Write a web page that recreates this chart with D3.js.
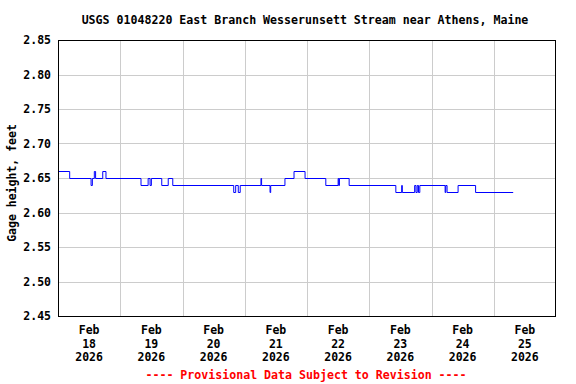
<!DOCTYPE html>
<html><head><meta charset="utf-8">
<script src="https://cdn.jsdelivr.net/npm/d3@7"></script>
<style>body{margin:0;background:#fff}svg{display:block}text{font-family:"DejaVu Sans Mono",monospace;font-weight:bold}</style>
</head><body>
<svg id="c" width="576" height="384"></svg>
<script>
const title = "USGS 01048220 East Branch Wesserunsett Stream near Athens, Maine";
const yLabel = "Gage height, feet";
const footer = "---- Provisional Data Subject to Revision ----";
const yTicks = [2.45, 2.50, 2.55, 2.60, 2.65, 2.70, 2.75, 2.80, 2.85];
const dayLabels = ["Feb 18 2026","Feb 19 2026","Feb 20 2026","Feb 21 2026","Feb 22 2026","Feb 23 2026","Feb 24 2026","Feb 25 2026"];
const times = [
 "2026-02-18T00:00","2026-02-18T04:30","2026-02-18T12:45","2026-02-18T13:15","2026-02-18T14:00","2026-02-18T14:30",
 "2026-02-18T17:15","2026-02-18T18:30","2026-02-19T08:00","2026-02-19T10:45","2026-02-19T11:30","2026-02-19T12:00",
 "2026-02-19T16:00","2026-02-19T18:30","2026-02-19T20:15","2026-02-20T19:45","2026-02-20T20:30","2026-02-20T21:30",
 "2026-02-20T22:15","2026-02-21T06:15","2026-02-21T06:30","2026-02-21T09:45","2026-02-21T10:00","2026-02-21T15:30",
 "2026-02-21T19:00","2026-02-21T23:15","2026-02-22T07:15","2026-02-22T12:00","2026-02-22T12:15","2026-02-22T12:30",
 "2026-02-22T16:15","2026-02-23T10:15","2026-02-23T12:30","2026-02-23T12:45","2026-02-23T17:30","2026-02-23T18:00",
 "2026-02-23T18:30","2026-02-23T19:00","2026-02-23T19:30","2026-02-24T05:15","2026-02-24T05:30","2026-02-24T06:00",
 "2026-02-24T10:15","2026-02-24T17:00","2026-02-25T07:30"];
const heights = [
 2.66,2.65,2.64,2.65,2.66,2.65,
 2.66,2.65,2.64,2.65,2.64,2.65,
 2.64,2.65,2.64,2.63,2.64,2.63,
 2.64,2.65,2.64,2.63,2.64,2.65,
 2.66,2.65,2.64,2.65,2.64,2.65,
 2.64,2.63,2.64,2.63,2.64,2.63,
 2.64,2.63,2.64,2.63,2.64,2.63,
 2.64,2.63,2.63];

const svg = d3.select("#c");
const m = {l:58, r:20, t:40, b:68};
const W = 576, H = 384;
const parse = d3.timeParse("%Y-%m-%dT%H:%M");
const data = times.map((t,i)=>({t:parse(t), v:heights[i]}));
const x = d3.scaleTime().domain([parse("2026-02-18T00:00"), parse("2026-02-26T00:00")]).range([m.l, W-m.r]);
const y = d3.scaleLinear().domain([2.45, 2.85]).range([H-m.b, m.t]);

// grid
const days = d3.timeDay.range(parse("2026-02-19T00:00"), parse("2026-02-26T00:00"));
svg.append("g").selectAll("line").data(days).join("line")
  .attr("x1", d=>Math.round(x(d))+0.5).attr("x2", d=>Math.round(x(d))+0.5)
  .attr("y1", m.t).attr("y2", H-m.b).attr("stroke","#cccccc").attr("stroke-width",1);
svg.append("g").selectAll("line").data(yTicks.slice(1,-1)).join("line")
  .attr("x1", m.l).attr("x2", W-m.r)
  .attr("y1", d=>Math.round(y(d))+0.5).attr("y2", d=>Math.round(y(d))+0.5)
  .attr("stroke","#cccccc").attr("stroke-width",1);

// line
const line = d3.line().x(d=>x(d.t)).y(d=>Math.round(y(d.v))+0.5).curve(d3.curveStepAfter);
svg.append("path").datum(data).attr("d", line).attr("fill","none").attr("stroke","#0000ff").attr("stroke-width",1);

// frame
svg.append("rect").attr("x", m.l+0.5).attr("y", m.t+0.5).attr("width", W-m.l-m.r-1).attr("height", H-m.t-m.b)
  .attr("fill","none").attr("stroke","#000").attr("stroke-width",1);

// y labels
svg.append("g").selectAll("text").data(yTicks).join("text")
  .attr("x", 51).attr("y", d=>y(d)+4).attr("text-anchor","end").attr("font-size","11.5px")
  .text(d=>d3.format(".2f")(d));
svg.append("text").attr("transform","translate(16,"+183+") rotate(-90)").attr("text-anchor","middle")
  .attr("font-size","11.5px").text(yLabel);

// x labels
const noons = dayLabels.map((s,i)=>d3.timeHour.offset(parse("2026-02-18T12:00"), 24*i));
const xl = svg.append("g").selectAll("text").data(dayLabels).join("text")
  .attr("text-anchor","middle").attr("font-size","11.5px");
xl.each(function(s,i){
  const parts = s.split(" ");
  const t = d3.select(this);
  parts.forEach((p,j)=>t.append("tspan").attr("x", x(noons[i])).attr("y", 334+j*13.5).text(p));
});

// title and footer
svg.append("text").attr("x", (m.l+W-m.r)/2-2).attr("y", 24).attr("text-anchor","middle").attr("font-size","11.6px").text(title);
svg.append("text").attr("x", (m.l+W-m.r)/2-1).attr("y", 379).attr("text-anchor","middle").attr("font-size","11.6px").attr("fill","#ff0000").text(footer);
</script>
</body></html>
